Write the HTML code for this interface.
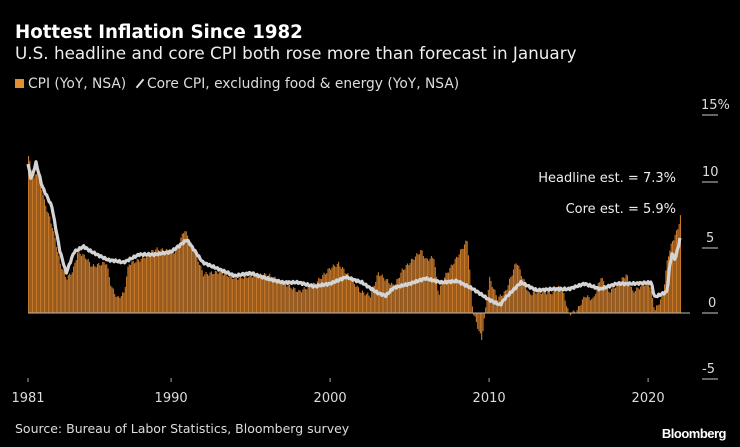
<!DOCTYPE html>
<html><head><meta charset="utf-8"><style>
body{margin:0;background:#000;width:740px;height:447px;overflow:hidden;font-family:"DejaVu Sans","Liberation Sans",sans-serif;color:#fff}
.t{position:absolute;left:15px;top:22px;font-size:18.2px;font-weight:bold}
.s{position:absolute;left:15px;top:43px;font-size:16.8px;color:#eee}
.l{position:absolute;left:15px;top:76px;font-size:13.8px;color:#ddd}
.src{position:absolute;left:15px;top:421px;font-size:12.5px;color:#ddd}
.bb{position:absolute;right:14px;top:426px;font-size:13px;font-weight:bold;font-family:"Liberation Sans",sans-serif;letter-spacing:-0.5px}
</style></head><body>
<div class="t">Hottest Inflation Since 1982</div>
<div class="s">U.S. headline and core CPI both rose more than forecast in January</div>
<div class="l"><span style="display:inline-block;width:9px;height:9px;background:#e0902e;margin-right:4px"></span>CPI (YoY, NSA) &nbsp;<span style="display:inline-block;width:2px;height:11px;background:#ddd;transform:rotate(40deg);margin:0 6px -1px 4px"></span>Core CPI, excluding food &amp; energy (YoY, NSA)</div>
<svg id="c" width="740" height="447" style="position:absolute;left:0;top:0"></svg>
<div class="src">Source: Bureau of Labor Statistics, Bloomberg survey</div>
<div class="bb">Bloomberg</div>
<script>
const H=[[1981,11.8],[1981.3,10],[1981.6,10.8],[1981.8,9.6],[1982,8.4],[1982.5,6.5],[1983,3.7],[1983.4,2.6],[1983.8,3.2],[1984.1,4.6],[1984.6,4.2],[1985,3.5],[1985.9,3.8],[1986.2,2],[1986.6,1.1],[1987,1.5],[1987.3,3.7],[1988,4.0],[1989,4.8],[1990.3,4.6],[1990.8,6.3],[1991.5,4.5],[1992,2.9],[1993,3.1],[1994,2.6],[1995,2.8],[1996,2.9],[1997,2.3],[1998,1.6],[1999,2.2],[2000,3.4],[2000.5,3.7],[2001,3.0],[2001.9,1.6],[2002.5,1.3],[2003,3.0],[2004,2.0],[2004.5,3.2],[2005.7,4.7],[2006,4.0],[2006.5,4.2],[2006.8,1.3],[2007,2.4],[2007.9,4.1],[2008.6,5.5],[2008.95,0.1],[2009.5,-2.0],[2010,2.6],[2010.5,1.1],[2011,1.6],[2011.7,3.9],[2012,2.9],[2012.5,1.4],[2013,1.6],[2014,1.5],[2014.5,2.1],[2015,-0.1],[2015.5,0.2],[2016,1.3],[2016.5,1.0],[2017,2.7],[2017.5,1.6],[2018,2.1],[2018.6,2.9],[2019,1.6],[2019.9,2.3],[2020,2.5],[2020.4,0.2],[2020.9,1.3],[2021.2,4.2],[2021.5,5.4],[2021.8,6.2],[2021.95,7.0],[2022.05,7.5]];
const C=[[1981,11.2],[1981.2,10],[1981.5,11.3],[1981.9,9.5],[1982.5,8],[1983,4.7],[1983.4,3.0],[1983.9,4.6],[1984.5,5.0],[1985,4.6],[1986,4.0],[1986.6,3.9],[1987,3.8],[1988,4.4],[1989,4.4],[1990,4.6],[1991,5.5],[1992,3.8],[1993,3.3],[1994,2.8],[1995,3.0],[1996,2.6],[1997,2.3],[1998,2.3],[1999,2.0],[2000,2.2],[2001,2.7],[2002,2.3],[2003,1.5],[2003.5,1.3],[2004,1.9],[2005,2.2],[2006,2.6],[2007,2.3],[2008,2.4],[2009,1.8],[2010,1.0],[2010.7,0.6],[2011,1.1],[2012,2.3],[2013,1.7],[2014,1.8],[2015,1.8],[2016,2.2],[2017,1.8],[2018,2.2],[2019,2.2],[2020.2,2.3],[2020.4,1.2],[2021.2,1.6],[2021.3,3.0],[2021.5,4.5],[2021.7,4.0],[2021.9,5.0],[2022.05,5.9]];
function f(D,t){for(let i=0;i<D.length-1;i++){if(t<=D[i+1][0]){let a=D[i],b=D[i+1];return a[1]+(b[1]-a[1])*(t-a[0])/(b[0]-a[0]);}}return D[D.length-1][1];}
const X=t=>28+(t-1981)*15.9, Y=v=>313-v*13.3;
let s='';
for(let m=0;m<493;m++){let t=1981+m/12;let v=f(H,t)+Math.sin(m*1.7)*0.15;let x=X(t),y=Y(v);s+=`<rect x="${x.toFixed(2)}" y="${Math.min(y,313).toFixed(1)}" width="1.1" height="${Math.abs(313-y).toFixed(1)}" fill="#c7792b"/>`;}
s+=`<line x1="28" y1="313" x2="690" y2="313" stroke="#bbb" stroke-width="1"/>`;
let p='';for(let m=0;m<493;m++){let t=1981+m/12;p+=(m?'L':'M')+X(t).toFixed(1)+','+Y(f(C,t)+Math.sin(m*2.3)*0.08).toFixed(1);}
s+=`<path d="${p}" fill="none" stroke="#d4d4d4" stroke-width="3.2" stroke-linejoin="round"/>`;
[[15,115],[10,182],[5,248],[0,313],[-5,379]].forEach(([v,y])=>{s+=`<line x1="702" y1="${y}" x2="718" y2="${y}" stroke="#ccc"/><text x="${v==15?701:(v==-5?702:(v==0?708:v==5?706:702))}" y="${y-6}" fill="#ddd" font-size="13">${v==15?'15%':v}</text>`;});
[[1981,'1981'],[1990,'1990'],[2000,'2000'],[2010,'2010'],[2020,'2020']].forEach(([t,l])=>{let x=X(t);s+=`<line x1="${x}" y1="378" x2="${x}" y2="382" stroke="#aaa"/><text x="${x}" y="402" fill="#ddd" font-size="13" text-anchor="middle">${l}</text>`;});
s+=`<text x="676" y="182" fill="#eee" font-size="13" text-anchor="end">Headline est. = 7.3%</text><text x="676" y="213" fill="#eee" font-size="13" text-anchor="end">Core est. = 5.9%</text>`;
document.getElementById('c').innerHTML=s;
</script>
</body></html>
